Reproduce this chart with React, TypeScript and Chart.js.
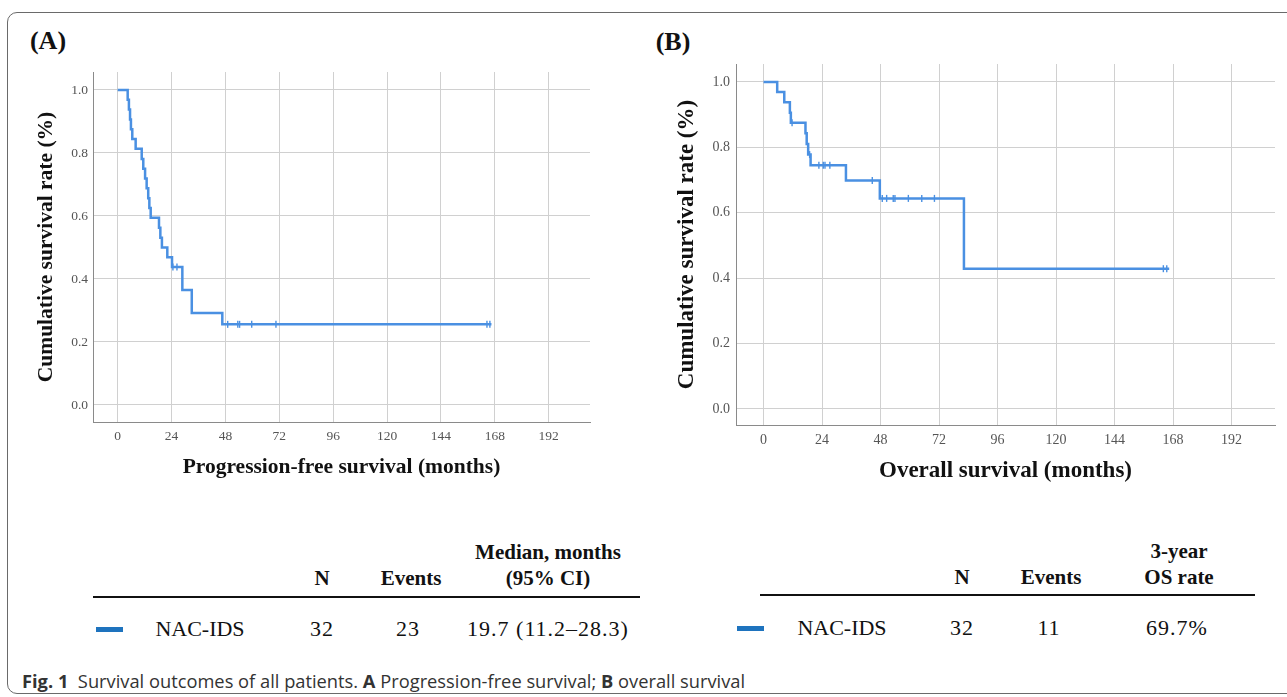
import React, { useEffect, useRef } from "react";
import { Chart, registerables } from "chart.js";

Chart.register(...registerables);

// ---------- data ----------
const X_TICKS = [0, 24, 48, 72, 96, 120, 144, 168, 192];
const Y_TICKS = [0, 0.2, 0.4, 0.6, 0.8, 1.0];

// Progression-free survival (months) – Kaplan–Meier steps
const PFS_TIMES = [0, 4.45, 5.0, 5.5, 5.9, 6.5, 8.0, 10.7, 11.4, 12.2, 12.9, 13.6, 14.1, 14.7, 18.4, 19.0, 19.7, 22.1, 24.2, 28.8, 33.0, 46.6, 166.5];
const PFS_SURV = [1.0, 0.969, 0.938, 0.906, 0.875, 0.844, 0.813, 0.781, 0.75, 0.719, 0.688, 0.656, 0.625, 0.594, 0.563, 0.531, 0.5, 0.469, 0.438, 0.365, 0.292, 0.256, 0.256];
const PFS_CENSOR_TIMES = [24.6, 26.4, 49.0, 53.5, 54.3, 59.7, 70.5, 164.5, 165.8];
const PFS_CENSOR_SURV = [0.438, 0.438, 0.256, 0.256, 0.256, 0.256, 0.256, 0.256, 0.256];

// Overall survival (months)
const OS_TIMES = [0, 5.6, 8.5, 10.8, 11.2, 17.2, 17.7, 18.3, 19.3, 33.8, 47.7, 82.2, 166.4];
const OS_SURV = [1.0, 0.969, 0.938, 0.906, 0.875, 0.843, 0.81, 0.778, 0.745, 0.699, 0.644, 0.429, 0.429];
const OS_CENSOR_TIMES = [11.7, 18.9, 22.7, 24.5, 25.2, 27.2, 44.6, 48.7, 50.5, 53.2, 53.9, 59.4, 64.9, 70.1, 164.0, 165.4];
const OS_CENSOR_SURV = [0.875, 0.778, 0.745, 0.745, 0.745, 0.745, 0.699, 0.644, 0.644, 0.644, 0.644, 0.644, 0.644, 0.644, 0.429, 0.429];

// table contents
const TABLE_A_HEAD = ["N", "Events", "Median, months", "(95% CI)"];
const TABLE_A_ROW = ["NAC-IDS", "32", "23", "19.7 (11.2–28.3)"];
const TABLE_B_HEAD = ["N", "Events", "3-year", "OS rate"];
const TABLE_B_ROW = ["NAC-IDS", "32", "11", "69.7%"];

const CURVE_COLOR = "#4a90e2";
const LEGEND_COLOR = "#1e73be";
const SERIF = "'Liberation Serif', 'Times New Roman', serif";

type PanelCfg = {
  times: number[];
  surv: number[];
  cTimes: number[];
  cSurv: number[];
  xTitle: string;
  xMin: number;
  xMax: number;
  yMin: number;
  yMax: number;
  yAxisWidth: number;
  yTickPad: number;
  xTickPad: number;
  xTitlePadBottom: number;
  yTitlePadTop: number;
  titleSize: number;
  tickSize: number;
};

function buildConfig(p: PanelCfg): any {
  const curve = p.times.map((t, i) => ({ x: t, y: p.surv[i] }));
  const censor = p.cTimes.map((t, i) => ({ x: t, y: p.cSurv[i] }));
  return {
    type: "scatter",
    data: {
      datasets: [
        {
          data: curve,
          showLine: true,
          stepped: true,
          borderColor: CURVE_COLOR,
          borderWidth: 2.5,
          pointRadius: 0,
          fill: false,
        },
        {
          data: censor,
          showLine: false,
          pointStyle: "line",
          pointRotation: 90,
          pointRadius: 3.5,
          pointBorderWidth: 1.4,
          borderColor: CURVE_COLOR,
          backgroundColor: CURVE_COLOR,
        },
      ],
    },
    options: {
      animation: false,
      responsive: false,
      maintainAspectRatio: false,
      layout: { padding: { top: 22, right: 10, left: 0, bottom: 0 } },
      plugins: { legend: { display: false }, tooltip: { enabled: false } },
      scales: {
        x: {
          type: "linear",
          min: p.xMin,
          max: p.xMax,
          afterBuildTicks: (s: any) => {
            s.ticks = X_TICKS.map((v) => ({ value: v }));
          },
          afterFit: (s: any) => {
            s.height = 62;
          },
          grid: { color: "#d0d0d0", lineWidth: 1, drawTicks: false },
          border: { color: "#8a8a8a", width: 1 },
          ticks: {
            color: "#555",
            padding: p.xTickPad,
            font: { family: SERIF, size: p.tickSize },
            callback: (v: any) => String(v),
          },
          title: {
            display: true,
            text: p.xTitle,
            color: "#111",
            font: { family: SERIF, size: p.titleSize, weight: "bold" },
            padding: { top: 0, bottom: p.xTitlePadBottom },
          },
        },
        y: {
          type: "linear",
          min: p.yMin,
          max: p.yMax,
          afterBuildTicks: (s: any) => {
            s.ticks = Y_TICKS.map((v) => ({ value: v }));
          },
          afterFit: (s: any) => {
            s.width = p.yAxisWidth;
          },
          grid: { color: "#d0d0d0", lineWidth: 1, drawTicks: false },
          border: { color: "#8a8a8a", width: 1 },
          ticks: {
            color: "#555",
            padding: p.yTickPad,
            font: { family: SERIF, size: p.tickSize },
            callback: (v: any) => Number(v).toFixed(1),
          },
          title: {
            display: true,
            text: "Cumulative survival rate (%)",
            color: "#111",
            font: { family: SERIF, size: p.titleSize, weight: "bold" },
            padding: { top: p.yTitlePadTop, bottom: 0 },
          },
        },
      },
    },
  };
}

const PANEL_A: PanelCfg = {
  times: PFS_TIMES,
  surv: PFS_SURV,
  cTimes: PFS_CENSOR_TIMES,
  cSurv: PFS_CENSOR_SURV,
  xTitle: "Progression-free survival (months)",
  xMin: -11.0,
  xMax: 210.4,
  yMin: -0.054,
  yMax: 1.057,
  yAxisWidth: 73,
  yTickPad: 5,
  xTickPad: 6,
  xTitlePadBottom: 4,
  yTitlePadTop: 14,
  titleSize: 21.5,
  tickSize: 13.5,
};

const PANEL_B: PanelCfg = {
  times: OS_TIMES,
  surv: OS_SURV,
  cTimes: OS_CENSOR_TIMES,
  cSurv: OS_CENSOR_SURV,
  xTitle: "Overall survival (months)",
  xMin: -11.3,
  xMax: 209.8,
  yMin: -0.049,
  yMax: 1.055,
  yAxisWidth: 76,
  yTickPad: 6,
  xTickPad: 7,
  xTitlePadBottom: 2,
  yTitlePadTop: 13,
  titleSize: 23,
  tickSize: 14,
};

function Txt(props: {
  x: number;
  y: number;
  children: any;
  bold?: boolean;
  size?: number;
  spacing?: number;
}) {
  const { x, y, bold, size = 22, spacing = 0 } = props;
  return (
    <div
      style={{
        position: "absolute",
        left: x,
        top: y,
        transform: "translate(-50%, -50%)",
        whiteSpace: "nowrap",
        lineHeight: 1,
        fontFamily: SERIF,
        fontWeight: bold ? "bold" : "normal",
        fontSize: size,
        letterSpacing: spacing,
        color: "#111",
      }}
    >
      {props.children}
    </div>
  );
}

export default function App() {
  const refA = useRef<HTMLCanvasElement>(null);
  const refB = useRef<HTMLCanvasElement>(null);

  useEffect(() => {
    const a = new Chart(refA.current as HTMLCanvasElement, buildConfig(PANEL_A));
    const b = new Chart(refB.current as HTMLCanvasElement, buildConfig(PANEL_B));
    return () => {
      a.destroy();
      b.destroy();
    };
  }, []);

  return (
    <div
      style={{
        position: "absolute",
        left: 0,
        top: 0,
        width: 1287,
        height: 697,
        overflow: "hidden",
        background: "#fff",
      }}
    >
      {/* frame */}
      <div
        style={{
          position: "absolute",
          left: 7,
          top: 12,
          width: 1320,
          height: 680,
          border: "1px solid #6a6a6a",
          borderRadius: 10,
        }}
      />

      {/* panel labels */}
      <Txt x={48} y={41} bold size={26}>(A)</Txt>
      <Txt x={673} y={42} bold size={26}>(B)</Txt>

      <canvas
        ref={refA}
        width={580}
        height={434}
        style={{ position: "absolute", left: 20, top: 50, width: 580, height: 434 }}
      />
      <canvas
        ref={refB}
        width={625}
        height={445}
        style={{ position: "absolute", left: 660, top: 42, width: 625, height: 445 }}
      />

      {/* table A */}
      <Txt x={548} y={552} bold size={21}>{TABLE_A_HEAD[2]}</Txt>
      <Txt x={548} y={578} bold size={21}>{TABLE_A_HEAD[3]}</Txt>
      <Txt x={322} y={578} bold size={21}>{TABLE_A_HEAD[0]}</Txt>
      <Txt x={411} y={578} bold size={21}>{TABLE_A_HEAD[1]}</Txt>
      <div style={{ position: "absolute", left: 93, top: 596, width: 547, height: 2, background: "#111" }} />
      <div style={{ position: "absolute", left: 96, top: 627, width: 27, height: 5, background: LEGEND_COLOR }} />
      <Txt x={200} y={629}>{TABLE_A_ROW[0]}</Txt>
      <Txt x={322} y={629} spacing={1}>{TABLE_A_ROW[1]}</Txt>
      <Txt x={408} y={629} spacing={1}>{TABLE_A_ROW[2]}</Txt>
      <Txt x={548} y={629} spacing={1}>{TABLE_A_ROW[3]}</Txt>

      {/* table B */}
      <Txt x={1179} y={551} bold size={21}>{TABLE_B_HEAD[2]}</Txt>
      <Txt x={1179} y={577} bold size={21}>{TABLE_B_HEAD[3]}</Txt>
      <Txt x={962} y={577} bold size={21}>{TABLE_B_HEAD[0]}</Txt>
      <Txt x={1051} y={577} bold size={21}>{TABLE_B_HEAD[1]}</Txt>
      <div style={{ position: "absolute", left: 760, top: 594, width: 495, height: 2, background: "#111" }} />
      <div style={{ position: "absolute", left: 737, top: 626, width: 27, height: 5, background: LEGEND_COLOR }} />
      <Txt x={842} y={628}>{TABLE_B_ROW[0]}</Txt>
      <Txt x={962} y={628} spacing={1}>{TABLE_B_ROW[1]}</Txt>
      <Txt x={1049} y={628} spacing={1}>{TABLE_B_ROW[2]}</Txt>
      <Txt x={1177} y={628} spacing={1}>{TABLE_B_ROW[3]}</Txt>

      {/* caption */}
      <div
        style={{
          position: "absolute",
          left: 22,
          top: 681,
          transform: "translate(0, -50%)",
          whiteSpace: "nowrap",
          lineHeight: 1,
          fontFamily: "'Open Sans', 'Noto Sans', sans-serif",
          fontSize: 18.3,
          color: "#333",
        }}
      >
        <b>Fig. 1</b>&nbsp; Survival outcomes of all patients. <b>A</b> Progression-free survival; <b>B</b> overall survival
      </div>
    </div>
  );
}
